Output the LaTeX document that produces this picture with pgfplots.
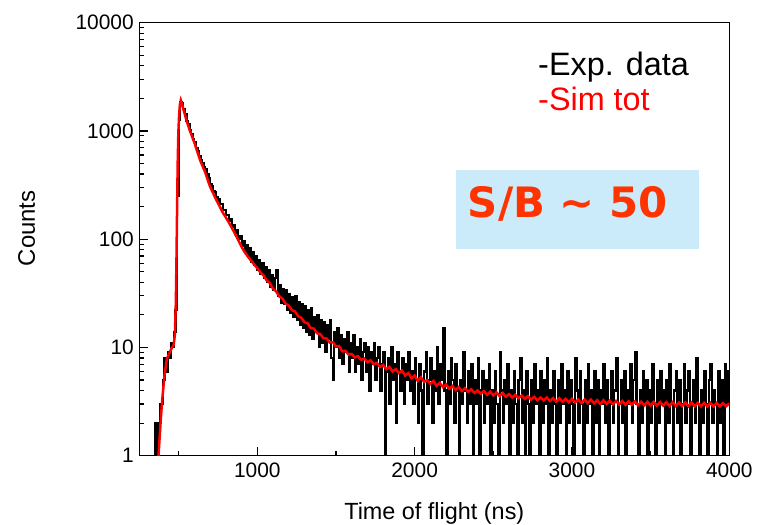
\documentclass[border=0pt]{standalone}
\usepackage{fontspec}
\setmainfont{Liberation Sans}
\newfontfamily\dvsans{DejaVu Sans}
\usepackage{pgfplots}
\pgfplotsset{compat=1.18}
\definecolor{sbfill}{RGB}{204,235,250}
\definecolor{sbtext}{RGB}{255,51,0}
\begin{document}
\begin{tikzpicture}
\useasboundingbox (-139.3bp,-69.3bp) rectangle (617.7bp,455.7bp);
\begin{axis}[
  at={(0,0)}, anchor=south west,
  scale only axis, width=590bp, height=433bp,
  xmin=250, xmax=4000,
  ymode=log, ymin=1, ymax=10000,
  xtick={1000,2000,3000,4000},
  xticklabels={1000,2000,3000,4000},
  minor xtick={500,1500,2500,3500},
  ytick={1,10,100,1000,10000},
  yticklabels={1,10,100,1000,10000},
  minor ytick={2,3,4,5,6,7,8,9,20,30,40,50,60,70,80,90,200,300,400,500,600,700,800,900,2000,3000,4000,5000,6000,7000,8000,9000},
  tick pos=left,
  tick align=inside,
  major tick length=8.5bp,
  minor tick length=4.8bp,
  every tick/.style={black, line width=1.2bp},
  axis line style={line width=1.5bp},
  tick label style={font=\fontsize{21}{25}\selectfont},
  xticklabel style={yshift=-4bp},
  yticklabel style={xshift=-2bp},
  /pgf/number format/assume math mode=true,
  xlabel={Time of flight (ns)},
  xlabel style={at={(axis description cs:0.5,-0.147)}, anchor=base, font=\fontsize{23.5}{28}\selectfont},
  ylabel={Counts},
  ylabel style={at={(axis description cs:-0.1768,0.525)}, anchor=base, rotate=0, font=\fontsize{24}{28}\selectfont},
]
\fill[sbfill] (rel axis cs:0.537,0.477) rectangle (rel axis cs:0.9486,0.660);
\node[anchor=base west, inner sep=0pt, text=sbtext, font=\dvsans\bfseries\fontsize{42}{48}\selectfont] at (rel axis cs:0.5566,0.549) {S/B \textasciitilde{} 50};
\node[anchor=base west, inner sep=0pt, font=\fontsize{32.5}{38}\selectfont] at (rel axis cs:0.6758,0.879) {-Exp. data};
\node[anchor=base west, inner sep=0pt, text=red, font=\fontsize{32.5}{38}\selectfont] at (rel axis cs:0.6758,0.798) {-Sim tot};
% experimental data
\addplot[const plot, black, line width=2.1bp] coordinates {
(330,0.5)(340,0.5)(350,2)(360,1)(370,2)(380,3)(390,3)(400,5)(410,8)(420,6)(430,9)(440,8)(450,11)(460,10)(470,14)(480,22)(490,250)(500,1250)
(510,1850)(520,1810)(530,1590)(540,1430)(550,1240)(560,1150)(570,1010)(580,945)(590,850)(600,795)(610,700)(620,650)(630,580)(640,535)
(650,505)(660,468)(670,446)(680,398)(690,368)(700,325)(710,312)(720,280)(730,272)(740,243)(750,236)(760,212)(770,210)(780,186)(790,185)
(800,166)(810,168)(820,147)(830,152)(840,131)(850,135)(860,114)(870,121)(880,100)(890,108)(900,86)(910,97)(920,76)(930,88)(940,69)
(950,82)(960,62)(970,76)(980,58)(990,70)(1000,52)(1010,64)(1020,48)(1030,60)(1040,44)(1050,55)(1060,40)(1070,52)(1080,36)(1090,47)
(1100,34)(1110,44)(1120,52)(1130,30)(1140,38)(1150,26)(1160,35)(1170,25)(1180,34)(1190,22)(1200,31)(1210,21)(1220,29)(1230,19)(1240,30)
(1250,18)(1260,26)(1270,16)(1280,25)(1290,15)(1300,24)(1310,14)(1320,22)(1330,13)(1340,23)(1350,12)(1360,19)(1370,14)(1380,20)(1390,10)
(1400,18)(1410,11)(1420,17)(1430,9)(1440,16)(1450,12)(1460,18)(1470,8)(1480,5)(1490,14)(1500,10)(1510,15)(1520,8)(1530,13)(1540,7)
(1550,12)(1560,9)(1570,14)(1580,6)(1590,11)(1600,8)(1610,13)(1620,6)(1630,10)(1640,7)(1650,12)(1660,5)(1670,9)(1680,11)(1690,6)
(1700,10)(1710,4)(1720,9)(1730,7)(1740,11)(1750,5)(1760,8)(1770,10)(1780,4)(1790,7)(1800,9)(1810,1)(1820,6)(1830,8)(1840,3)
(1850,10)(1860,5)(1870,7)(1880,2)(1890,9)(1900,6)(1910,4)(1920,8)(1930,3)(1940,7)(1950,5)(1960,9)(1970,4)(1980,6)(1990,3)
(2000,8)(2010,5)(2020,2)(2030,7)(2040,4)(2050,0.5)(2060,6)(2070,9)(2080,3)(2090,5)(2100,8)(2110,2)(2120,6)(2130,4)(2140,10)
(2150,3)(2160,7)(2170,5)(2180,15)(2190,4)(2200,0.5)(2210,6)(2220,3)(2230,8)(2240,5)(2250,2)(2260,7)(2270,4)(2280,0.5)(2290,5)
(2300,3)(2310,9)(2320,4)(2330,2)(2340,6)(2350,3)(2360,7)(2370,1)(2380,5)(2390,3)(2400,8)(2410,0.5)(2420,4)(2430,6)(2440,2)
(2450,5)(2460,3)(2470,7)(2480,1)(2490,4)(2500,2)(2510,6)(2520,3)(2530,0.5)(2540,9)(2550,4)(2560,2)(2570,5)(2580,3)(2590,7)
(2600,0.5)(2610,4)(2620,2)(2630,6)(2640,3)(2650,0.5)(2660,5)(2670,8)(2680,2)(2690,4)(2700,1)(2710,6)(2720,3)(2730,0.5)(2740,5)
(2750,2)(2760,7)(2770,3)(2780,4)(2790,0.5)(2800,6)(2810,2)(2820,5)(2830,3)(2840,8)(2850,1)(2860,4)(2870,2)(2880,6)(2890,3)
(2900,0.5)(2910,5)(2920,2)(2930,7)(2940,3)(2950,4)(2960,1)(2970,6)(2980,2)(2990,5)(3000,3)(3010,0.5)(3020,8)(3030,4)(3040,2)
(3050,6)(3060,3)(3070,0.5)(3080,5)(3090,2)(3100,7)(3110,3)(3120,4)(3130,1)(3140,6)(3150,2)(3160,5)(3170,0.5)(3180,4)(3190,3)
(3200,7)(3210,2)(3220,5)(3230,0.5)(3240,3)(3250,6)(3260,2)(3270,4)(3280,8)(3290,1)(3300,3)(3310,5)(3320,2)(3330,6)(3340,0.5)
(3350,4)(3360,3)(3370,7)(3380,2)(3390,5)(3400,9)(3410,3)(3420,0.5)(3430,4)(3440,2)(3450,6)(3460,3)(3470,5)(3480,1)(3490,4)
(3500,2)(3510,7)(3520,3)(3530,0.5)(3540,5)(3550,2)(3560,6)(3570,3)(3580,4)(3590,0.5)(3600,5)(3610,2)(3620,7)(3630,3)(3640,1)
(3650,4)(3660,6)(3670,2)(3680,5)(3690,0.5)(3700,3)(3710,7)(3720,2)(3730,4)(3740,6)(3750,0.5)(3760,3)(3770,5)(3780,2)(3790,8)
(3800,3)(3810,0.5)(3820,4)(3830,2)(3840,6)(3850,3)(3860,0.5)(3870,5)(3880,7)(3890,2)(3900,4)(3910,3)(3920,0.5)(3930,6)(3940,2)
(3950,5)(3960,0.5)(3970,7)(3980,3)(3990,6)(4000,4)
};
% simulation
\addplot[red, line width=2.5bp] coordinates {
(360,0.6)(372,1.0)(385,2.0)(395,3.2)(410,5.5)(425,7.8)(440,8.8)(455,9.8)(468,10.5)(476,13)(482,25)(486,60)(490,180)(494,500)(498,950)
(503,1400)(508,1750)(514,1920)(520,1800)(530,1600)(540,1413)(550,1250)(560,1130)(570,1020)(580,933)(590,853)(600,780)(610,705)
(620,637)(630,574)(640,522)(650,482)(660,445)(670,410)(680,371)(690,336)(700,305)(720,265)(740,230)(760,202)(780,177)(800,159)
(820,142)(840,126)(860,111)(880,97.5)(900,85)(920,75.9)(940,69.2)(960,63.4)(980,58.5)(1000,54)(1020,49.2)(1040,46.3)(1060,41.5)
(1080,39.2)(1100,34.8)(1120,32.9)(1140,29.6)(1160,28.3)(1180,25.4)(1200,24.3)(1220,22.1)(1240,21.5)(1260,19.4)(1280,18.8)(1300,17.1)
(1320,16.7)(1340,15.1)(1360,14.9)(1380,13.5)(1400,13.3)(1420,12.2)(1440,12.1)(1460,11.1)(1480,11.2)(1500,10.2)(1520,10.3)(1540,9.2)
(1560,9.3)(1580,8.6)(1600,8.7)(1620,8.1)(1640,8.3)(1660,7.7)(1680,7.9)(1700,7.3)(1720,7.6)(1740,7.0)(1760,7.2)(1780,6.6)(1800,6.9)
(1820,6.3)(1840,6.6)(1860,6.0)(1880,6.3)(1900,5.8)(1920,6.1)(1940,5.5)(1960,5.8)(1980,5.2)(2000,5.5)(2020,4.9)(2040,5.3)(2060,4.8)
(2080,5.0)(2100,4.6)(2120,4.9)(2140,4.4)(2160,4.7)(2180,4.3)(2200,4.55)(2220,4.15)(2240,4.4)(2260,4.05)(2280,4.3)(2300,3.95)(2320,4.2)
(2340,3.9)(2360,4.1)(2380,3.8)(2400,4.0)(2420,3.75)(2440,3.95)(2460,3.65)(2480,3.9)(2500,3.6)(2520,3.85)(2540,3.55)(2560,3.8)(2580,3.5)
(2600,3.7)(2620,3.45)(2640,3.65)(2660,3.4)(2680,3.6)(2700,3.35)(2720,3.55)(2740,3.3)(2760,3.5)(2780,3.25)(2800,3.45)(2820,3.25)
(2840,3.45)(2860,3.2)(2880,3.4)(2900,3.15)(2920,3.4)(2940,3.15)(2960,3.35)(2980,3.1)(3000,3.35)(3020,3.1)(3040,3.3)(3060,3.05)
(3080,3.3)(3100,3.05)(3120,3.3)(3140,3.05)(3160,3.25)(3180,3.0)(3200,3.25)(3220,3.0)(3240,3.22)(3260,2.98)(3280,3.2)(3300,2.97)
(3320,3.2)(3340,2.95)(3360,3.18)(3380,2.95)(3400,3.17)(3420,2.93)(3440,3.15)(3460,2.92)(3480,3.15)(3500,2.92)(3520,3.14)(3540,2.9)
(3560,3.13)(3580,2.9)(3600,3.12)(3620,2.88)(3640,3.12)(3660,2.88)(3680,3.1)(3700,2.87)(3720,3.1)(3740,2.86)(3760,3.1)(3780,2.86)
(3800,3.08)(3820,2.86)(3840,3.08)(3860,2.85)(3880,3.07)(3900,2.85)(3920,3.07)(3940,2.85)(3960,3.06)(3980,2.86)(4000,3.05)
};
\end{axis}
\end{tikzpicture}
\end{document}
